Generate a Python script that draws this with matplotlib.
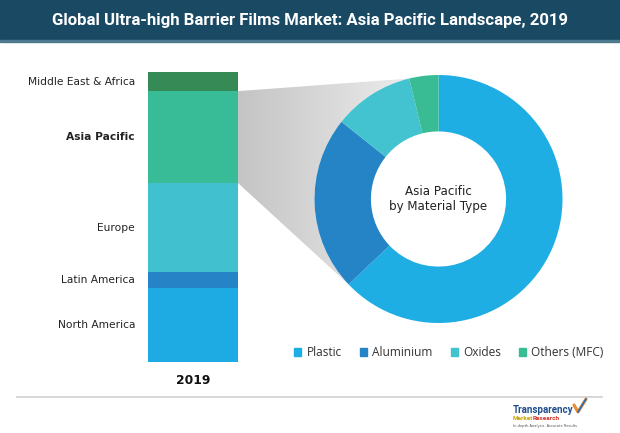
import numpy as np
import matplotlib
matplotlib.use("Agg")
from matplotlib import pyplot as plt
from matplotlib.patches import Rectangle, Polygon, Patch
from matplotlib.colors import LinearSegmentedColormap

W, H = 620, 433

# data
regions = ["North America", "Latin America", "Europe", "Asia Pacific", "Middle East & Africa"]
region_share = [25.5, 5.5, 30.7, 31.7, 6.6]
region_colors = ["#1eaae2", "#2683c6", "#41c1cf", "#38bb97", "#358a55"]
year_label = "2019"

materials = ["Plastic", "Aluminium", "Oxides", "Others (MFC)"]
material_share = [62.9, 22.8, 10.5, 3.8]
material_colors = ["#1eaee3", "#2584c6", "#42c3cf", "#39bb94"]

title = "Global Ultra-high Barrier Films Market: Asia Pacific Landscape, 2019"

fig = plt.figure(figsize=(W / 100, H / 100), dpi=100)
fig.patch.set_facecolor("white")

# background axes in pixel coordinates
bg = fig.add_axes([0, 0, 1, 1], zorder=0)
bg.set_xlim(0, W)
bg.set_ylim(H, 0)
bg.axis("off")

# title bar
bg.add_patch(Rectangle((0, 0), W, 40, color="#1a4a63", zorder=1))
bg.add_patch(Rectangle((0, 40), W, 2, color="#4d7a8e", zorder=1))
fig.text(0.5, 1 - 20 / H, title, color="white", ha="center", va="center",
         fontsize=12.1, fontweight="bold", family="Roboto")

# bottom divider
bg.plot([17, 602], [397, 397], color="#d4d4d4", lw=1.3)

# stacked bar
axb = fig.add_axes([148 / W, (H - 362) / H, 90 / W, 290 / H], zorder=2)
axb.set_facecolor("none")
bottoms = np.concatenate([[0], np.cumsum(region_share)[:-1]])
axb.bar(0, region_share, bottom=bottoms, width=1.0, color=region_colors, edgecolor="none")
axb.set_xlim(-0.5, 0.5)
axb.set_ylim(0, sum(region_share))
axb.axis("off")
for name, b, v in zip(regions, bottoms, region_share):
    bold = name == "Asia Pacific"
    axb.annotate(name, xy=(-0.5, b + v / 2), xytext=(-13, 0), textcoords="offset pixels",
                 ha="right", va="center", fontsize=7.7, color="#222222",
                 fontweight="bold" if bold else "normal", family="DejaVu Sans")
axb.annotate(year_label, xy=(0, 0), xytext=(0, -18), textcoords="offset pixels",
             ha="center", va="center", fontsize=8.8, fontweight="bold", color="#111111")

# donut
axd = fig.add_axes([314.5 / W, (H - 323) / H, 248 / W, 248 / H], zorder=2)
axd.set_facecolor("none")
wedges, _ = axd.pie(material_share, colors=material_colors, startangle=90, counterclock=False,
                    radius=1.0, wedgeprops=dict(width=0.455, edgecolor="none"))
axd.set_xlim(-1, 1)
axd.set_ylim(-1, 1)
axd.set_aspect("equal")
axd.axis("off")
axd.text(0, 0, "Asia Pacific\nby Material Type", ha="center", va="center",
         fontsize=8.6, color="#222222", linespacing=1.2, family="DejaVu Sans")

# funnel from the Asia Pacific segment to the donut
ap = regions.index("Asia Pacific")
p_top = axb.transData.transform((0.5, bottoms[ap] + region_share[ap]))
p_bot = axb.transData.transform((0.5, bottoms[ap]))
a_top = 90 + 360 * material_share[3] / 100
a_bot = 90 + 360 * (1 - material_share[0] / 100)
arc = np.linspace(a_top, a_bot, 40)
arc_pts = axd.transData.transform(np.c_[np.cos(np.radians(arc)), np.sin(np.radians(arc))])
pts = bg.transData.inverted().transform(np.vstack([p_top, arc_pts, p_bot]))
poly = Polygon(pts, closed=True, facecolor="none", edgecolor="none")
bg.add_patch(poly)
grad = np.linspace(0, 1, 256)[None, :]
cmap = LinearSegmentedColormap.from_list("g", ["#c4c4c4", "#ececec"])
im = bg.imshow(grad, cmap=cmap,
               extent=(pts[:, 0].min(), pts[:, 0].max(), pts[:, 1].max(), pts[:, 1].min()),
               aspect="auto", zorder=0.5)
im.set_clip_path(poly)
bg.set_xlim(0, W)
bg.set_ylim(H, 0)

# legend
handles = [Patch(color=c) for c in material_colors]
fig.legend(handles, materials, loc="center", bbox_to_anchor=(449 / W, 1 - 353 / H), ncol=4,
           frameon=False, handlelength=0.6, handleheight=0.6, handletextpad=0.45,
           columnspacing=1.5, labelcolor="#333333", prop=dict(family="Open Sans", size=8.6))

# logo
fig.text(513 / W, 1 - 410 / H, "Transparency", ha="left", va="center", fontsize=7,
         fontweight="bold", color="#1f4e8c", family="Roboto")
fig.text(513 / W, 1 - 419 / H, "Market", ha="left", va="center", fontsize=4.6,
         fontweight="bold", color="#c9a100", family="Roboto")
fig.text(533 / W, 1 - 419 / H, "Research", ha="left", va="center", fontsize=4.6,
         fontweight="bold", color="#d1342a", family="Roboto")
fig.text(513 / W, 1 - 426 / H, "In-depth Analysis. Accurate Results", ha="left", va="center",
         fontsize=2.6, color="#555555")
bg.plot([574, 578, 586], [405, 412, 399], color="#e8892b", lw=2.2, solid_capstyle="round")
bg.plot([578, 586], [412, 399], color="#2a6db5", lw=1.2, solid_capstyle="round")

fig.savefig("out.png", dpi=100)
